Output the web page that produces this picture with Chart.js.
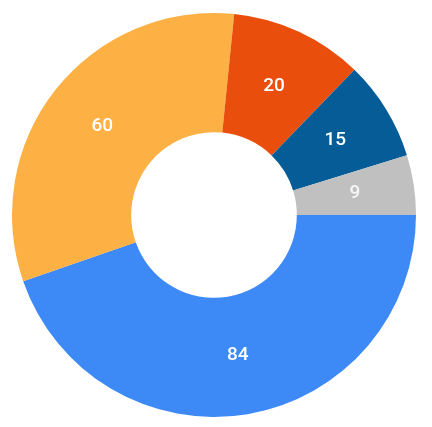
<!DOCTYPE html>
<html>
<head>
    <title>Doughnut</title>
    <script src="https://cdn.jsdelivr.net/npm/chart.js"></script>
    <style>
        body { margin: 0; background: #fff; }
        #wrap { width: 432px; height: 427px; }
    </style>
</head>
<body>
    <div id="wrap"><canvas id="donutChart"></canvas></div>
    <script>
        // values
        const labels = ['A', 'B', 'C', 'D', 'E'];
        const values = [84, 60, 20, 15, 9];
        const colors = ['#3d8af7', '#fdb043', '#e94e0d', '#065c96', '#c0c0c0'];

        // simple value labels at the middle of each slice
        const sliceLabels = {
            id: 'sliceLabels',
            afterDatasetsDraw(chart) {
                const ctx = chart.ctx;
                const meta = chart.getDatasetMeta(0);
                ctx.save();
                ctx.font = '500 19px Roboto';
                ctx.textAlign = 'center';
                ctx.textBaseline = 'middle';
                meta.data.forEach((arc, i) => {
                    const p = arc.getCenterPoint();
                    ctx.fillStyle = i === 4 ? 'rgba(255,255,255,0.85)' : '#fff';
                    ctx.fillText(String(values[i]), p.x, p.y);
                });
                ctx.restore();
            }
        };

        const ctx = document.getElementById('donutChart').getContext('2d');
        new Chart(ctx, {
            type: 'doughnut',
            data: {
                labels: labels,
                datasets: [{
                    data: values,
                    backgroundColor: colors,
                    borderWidth: 0
                }]
            },
            options: {
                responsive: true,
                maintainAspectRatio: false,
                animation: false,
                rotation: 90,
                cutout: '41%',
                layout: { padding: { left: 12, right: 16, top: 13, bottom: 10 } },
                plugins: {
                    legend: { display: false },
                    tooltip: { enabled: false }
                }
            },
            plugins: [sliceLabels]
        });
    </script>
</body>
</html>
